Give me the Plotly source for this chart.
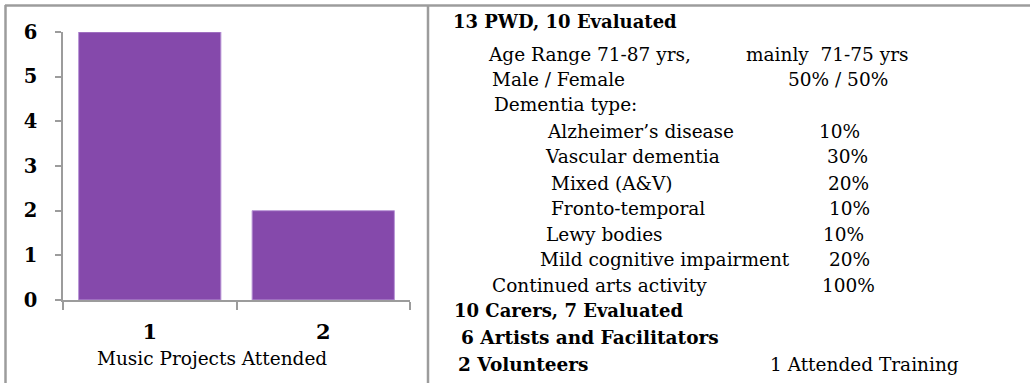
import plotly.graph_objects as go

# ---- data -------------------------------------------------------------
projects_attended = ["1", "2"]
participant_counts = [6, 2]
y_ticks = [0, 1, 2, 3, 4, 5, 6]
x_title = "Music Projects Attended"

pwd_heading = "13 PWD, 10 Evaluated"
profile_labels = ["Age Range 71-87 yrs,", "Male / Female", "Dementia type:"]
profile_values = ["mainly  71-75 yrs", "50% / 50%", ""]
dementia_types = ["Alzheimer\u2019s disease", "Vascular dementia", "Mixed (A&V)",
                  "Fronto-temporal", "Lewy bodies", "Mild cognitive impairment"]
dementia_pct = [10, 30, 20, 10, 10, 20]
arts_label = "Continued arts activity"
arts_pct = 100
carers_heading = "10 Carers, 7 Evaluated"
artists_heading = "6 Artists and Facilitators"
volunteers_heading = "2 Volunteers"
volunteers_note = "1 Attended Training"

# ---- canvas -----------------------------------------------------------
W, H = 1030, 383
FONT = "DejaVu Serif, Liberation Serif, serif"
GRID = "#9c9c9c"
BAR = "#8549ab"
BODY = 18.5


def px(x):
    return x / W


def py(y):
    return 1 - y / H


fig = go.Figure()
fig.add_trace(go.Bar(
    x=projects_attended, y=participant_counts,
    marker=dict(color=BAR, line=dict(color="#b996d6", width=1)),
    width=0.82, hoverinfo="skip",
))

fig.update_layout(
    width=W, height=H,
    margin=dict(l=0, r=0, t=0, b=0, pad=0, autoexpand=False),
    paper_bgcolor="white", plot_bgcolor="white", showlegend=False,
    font=dict(family=FONT, color="black"),
    xaxis=dict(
        domain=[px(63), px(410)], range=[-0.5, 1.5], type="category",
        showline=True, linecolor=GRID, linewidth=1.5,
        ticks="outside", tickson="boundaries", ticklen=8, tickcolor=GRID, tickwidth=1.5,
        tickfont=dict(family=FONT, size=21), ticklabelstandoff=12,
        tickprefix="<b>", ticksuffix="</b>", automargin=False,
        showgrid=False, zeroline=False, fixedrange=True,
    ),
    yaxis=dict(
        domain=[py(300), py(32)], range=[0, 6],
        tickvals=y_ticks, ticktext=[f"<b>{v}</b>" for v in y_ticks],
        showline=True, linecolor=GRID, linewidth=1.5,
        ticks="outside", ticklen=6, tickcolor=GRID, tickwidth=1.5,
        tickfont=dict(family=FONT, size=19.5), ticklabelstandoff=14,
        automargin=False,
        showgrid=False, zeroline=False, fixedrange=True,
    ),
)

# ---- table frame ------------------------------------------------------
frame = dict(type="line", xref="paper", yref="paper", line=dict(color=GRID, width=2.5))
fig.add_shape(x0=px(5), x1=1, y0=py(5.5), y1=py(5.5), **frame)
fig.add_shape(x0=px(5.5), x1=px(5.5), y0=py(5), y1=0, **frame)
fig.add_shape(x0=px(428), x1=px(428), y0=py(5), y1=0, **frame)

annotations = []


def text(s, x, y, size=BODY, bold=False):
    annotations.append(dict(
        text=f"<b>{s}</b>" if bold else s, x=px(x), y=py(y),
        xref="paper", yref="paper", xanchor="left", yanchor="middle",
        showarrow=False, font=dict(family=FONT, size=size, color="black"),
    ))


# axis title under the bars
annotations.append(dict(
    text=x_title, x=px(212), y=py(358), xref="paper", yref="paper",
    xanchor="center", yanchor="middle", showarrow=False,
    font=dict(family=FONT, size=BODY, color="black"),
))

# ---- participant summary ---------------------------------------------
text(pwd_heading, 451, 22, size=18, bold=True)

profile_x = [486, 490, 492]
profile_y = [54, 79, 105]
value_x = [744, 786]
for i, label in enumerate(profile_labels):
    text(label, profile_x[i], profile_y[i])
    if profile_values[i]:
        text(profile_values[i], value_x[i], profile_y[i])

type_x = [545, 543, 549, 549, 544, 538]
pct_x = [817, 825, 826, 827, 821, 827]
type_y = [132, 157, 183, 209, 234, 259]
for i, name in enumerate(dementia_types):
    text(name, type_x[i], type_y[i])
    text(f"{dementia_pct[i]}%", pct_x[i], type_y[i])

text(arts_label, 490, 285)
text(f"{arts_pct}%", 820, 285)

text(carers_heading, 452, 310, size=18, bold=True)
text(artists_heading, 459, 337, size=18.5, bold=True)
text(volunteers_heading, 456, 364, size=18.5, bold=True)
text(volunteers_note, 768, 364)

fig.update_layout(annotations=annotations)
fig.write_html("out.html")
